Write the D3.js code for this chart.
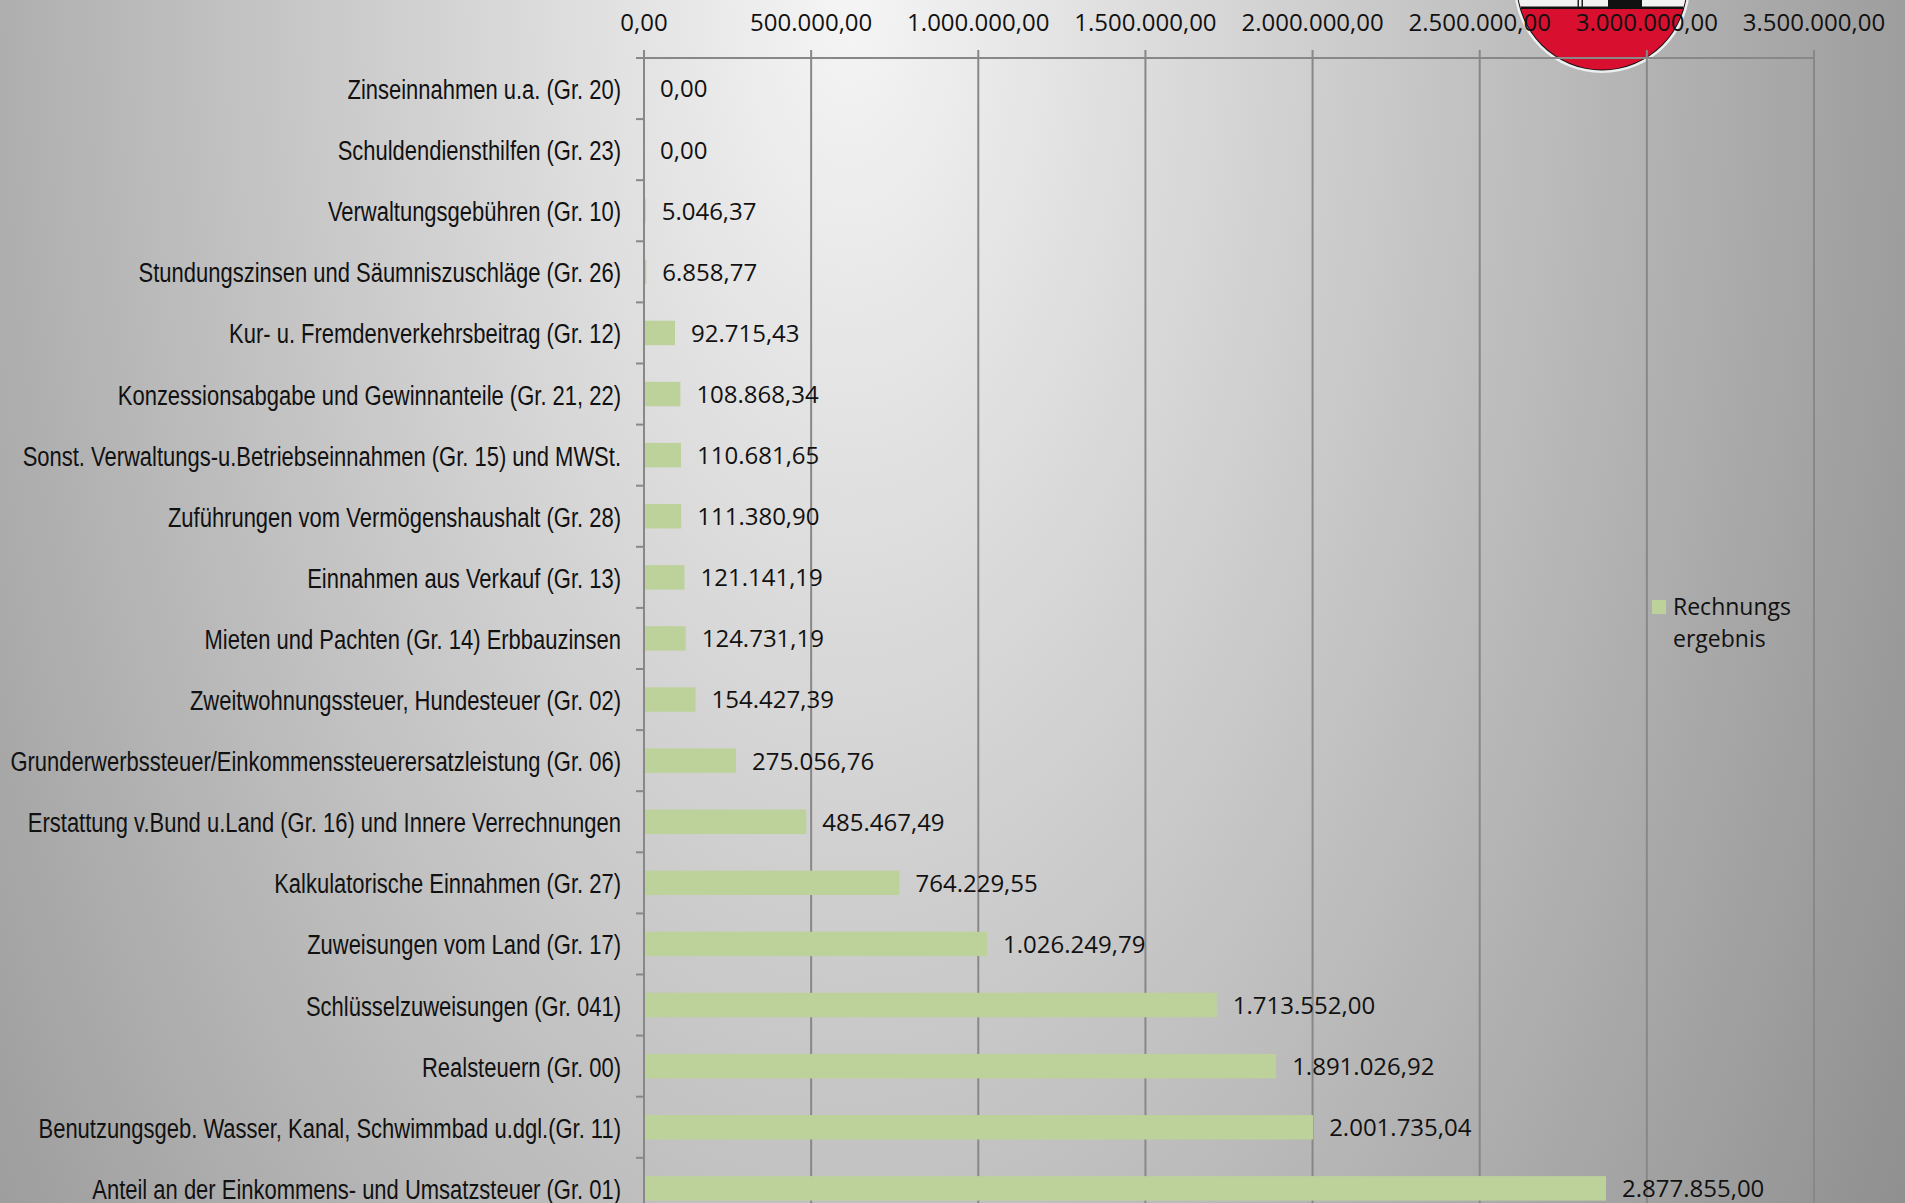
<!DOCTYPE html>
<html>
<head>
<meta charset="utf-8">
<script src="https://cdn.jsdelivr.net/npm/d3@7"></script>
<style>
html,body{margin:0;padding:0;overflow:hidden;background:#ccc;}
svg{display:block;}
</style>
</head>
<body>
<script>
// ---- data ----
const categories = [
  "Zinseinnahmen u.a. (Gr. 20)",
  "Schuldendiensthilfen (Gr. 23)",
  "Verwaltungsgebühren (Gr. 10)",
  "Stundungszinsen und Säumniszuschläge (Gr. 26)",
  "Kur- u. Fremdenverkehrsbeitrag (Gr. 12)",
  "Konzessionsabgabe und Gewinnanteile (Gr. 21, 22)",
  "Sonst. Verwaltungs-u.Betriebseinnahmen (Gr. 15) und MWSt.",
  "Zuführungen vom Vermögenshaushalt (Gr. 28)",
  "Einnahmen aus Verkauf (Gr. 13)",
  "Mieten und Pachten (Gr. 14) Erbbauzinsen",
  "Zweitwohnungssteuer, Hundesteuer (Gr. 02)",
  "Grunderwerbssteuer/Einkommenssteuerersatzleistung (Gr. 06)",
  "Erstattung v.Bund u.Land (Gr. 16) und Innere Verrechnungen",
  "Kalkulatorische Einnahmen (Gr. 27)",
  "Zuweisungen vom Land (Gr. 17)",
  "Schlüsselzuweisungen (Gr. 041)",
  "Realsteuern (Gr. 00)",
  "Benutzungsgeb. Wasser, Kanal, Schwimmbad u.dgl.(Gr. 11)",
  "Anteil an der Einkommens- und Umsatzsteuer (Gr. 01)"
];
const values = [
  0, 0, 5046.37, 6858.77, 92715.43, 108868.34, 110681.65, 111380.90,
  121141.19, 124731.19, 154427.39, 275056.76, 485467.49, 764229.55,
  1026249.79, 1713552.00, 1891026.92, 2001735.04, 2877855.00
];
const tickValues = [0, 500000, 1000000, 1500000, 2000000, 2500000, 3000000, 3500000];
const seriesName = ["Rechnungs", "ergebnis"];

// ---- setup ----
const W = 1905, H = 1203;
const barColor = "#bdd29a";
const gridColor = "#888888";
const de = d3.formatLocale({decimal: ",", thousands: ".", grouping: [3], currency: ["", " €"]});
const fmt = de.format(",.2f");

const svg = d3.select("body").append("svg").attr("width", W).attr("height", H);
const defs = svg.append("defs");

// background gradient
const rg = defs.append("radialGradient").attr("id", "bg")
  .attr("gradientUnits", "userSpaceOnUse")
  .attr("cx", 850).attr("cy", 0).attr("r", 1350)
  .attr("gradientTransform", "translate(850,0) scale(1,1.93) translate(-850,0)");
rg.append("stop").attr("offset", 0).attr("stop-color", "#f5f5f5");
rg.append("stop").attr("offset", 1).attr("stop-color", "#858585");
svg.append("rect").attr("width", W).attr("height", H).attr("fill", "url(#bg)");

// logo (crest, partially cut at top)
const logo = svg.append("g").attr("transform", "translate(1602,-15)");
defs.append("clipPath").attr("id", "crestClip").append("circle").attr("r", 84.5);
logo.append("circle").attr("r", 88).attr("fill", "#ebefef");
logo.append("circle").attr("r", 85.5).attr("fill", "#111");
const inner = logo.append("g").attr("clip-path", "url(#crestClip)");
inner.append("rect").attr("x", -90).attr("y", -90).attr("width", 180).attr("height", 180).attr("fill", "#d90f2f");
inner.append("rect").attr("x", -90).attr("y", -110).attr("width", 180).attr("height", 133).attr("fill", "#f2f2f2");
inner.append("rect").attr("x", -90).attr("y", 21.5).attr("width", 180).attr("height", 2.5).attr("fill", "#111");
inner.append("rect").attr("x", 6).attr("y", -30).attr("width", 34).attr("height", 52).attr("fill", "#111");
inner.append("rect").attr("x", -24.5).attr("y", -30).attr("width", 1.5).attr("height", 52).attr("fill", "#222");
inner.append("rect").attr("x", -20.5).attr("y", -30).attr("width", 1.5).attr("height", 52).attr("fill", "#222");

// scales
const x0 = 644, x1 = 1814, yTop = 58;
const step = 61.1;
const x = d3.scaleLinear().domain([0, 3500000]).range([x0, x1]);
const y = d3.scaleBand().domain(categories)
  .range([yTop, yTop + step * categories.length])
  .paddingInner(0.6).paddingOuter(0.3);

// gridlines (extend above axis as tick marks)
svg.append("g").selectAll("line").data(tickValues).join("line")
  .attr("x1", d => x(d)).attr("x2", d => x(d))
  .attr("y1", yTop - 8).attr("y2", H)
  .attr("stroke", gridColor).attr("stroke-width", 2);

// top axis line
svg.append("line").attr("x1", x0).attr("x2", x(3500000))
  .attr("y1", yTop).attr("y2", yTop).attr("stroke", gridColor).attr("stroke-width", 2);

// left category axis ticks at band boundaries
const bounds = categories.map(c => y(c) - y.step() * y.paddingOuter());
svg.append("g").selectAll("line").data(bounds).join("line")
  .attr("x1", x0 - 8).attr("x2", x0)
  .attr("y1", d => d).attr("y2", d => d)
  .attr("stroke", gridColor).attr("stroke-width", 2);

// tick labels
svg.append("g").selectAll("text").data(tickValues).join("text")
  .attr("x", d => x(d)).attr("y", 31)
  .attr("text-anchor", "middle")
  .attr("font-family", "'Open Sans', sans-serif").attr("font-size", 24)
  .attr("fill", "#111")
  .text(d => fmt(d));

// bars
svg.append("g").selectAll("rect").data(values).join("rect")
  .attr("x", x(0) + 1)
  .attr("y", (d, i) => y(categories[i]))
  .attr("width", d => Math.max(0, x(d) - x(0) - 1))
  .attr("height", y.bandwidth())
  .attr("fill", barColor);

// value labels
svg.append("g").selectAll("text").data(values).join("text")
  .attr("x", d => x(d) + 16)
  .attr("y", (d, i) => y(categories[i]) + y.bandwidth() / 2)
  .attr("dy", "0.37em")
  .attr("font-family", "'Open Sans', sans-serif").attr("font-size", 24)
  .attr("fill", "#111")
  .text(d => fmt(d));

// category labels
const narrowAvail = (() => {
  const t1 = svg.append("text").attr("font-size", 40).attr("font-family", "'Liberation Sans Narrow', monospace").text("Zinseinnahmen abc");
  const t2 = svg.append("text").attr("font-size", 40).attr("font-family", "monospace").text("Zinseinnahmen abc");
  const a = t1.node().getComputedTextLength(), b = t2.node().getComputedTextLength();
  t1.remove(); t2.remove();
  return Math.abs(a - b) > 1;
})();
const labelX = 621;
svg.append("g").selectAll("text").data(categories).join("text")
  .attr("transform", d => `translate(${labelX},${y(d) + y.bandwidth() / 2}) scale(${narrowAvail ? 1 : 0.82},1)`)
  .attr("dy", "0.39em")
  .attr("text-anchor", "end")
  .attr("font-family", narrowAvail ? "'Liberation Sans Narrow', sans-serif" : "'Liberation Sans', Arial, sans-serif")
  .attr("font-size", 26.8)
  .attr("fill", "#111")
  .text(d => d);

// legend
const lg = svg.append("g");
lg.append("rect").attr("x", 1652).attr("y", 600).attr("width", 14).attr("height", 14).attr("fill", barColor);
lg.selectAll("text").data(seriesName).join("text")
  .attr("x", 1673).attr("y", (d, i) => 615 + i * 32)
  .attr("font-family", "'Open Sans', sans-serif").attr("font-size", 23)
  .attr("fill", "#111")
  .text(d => d);
</script>
</body>
</html>
